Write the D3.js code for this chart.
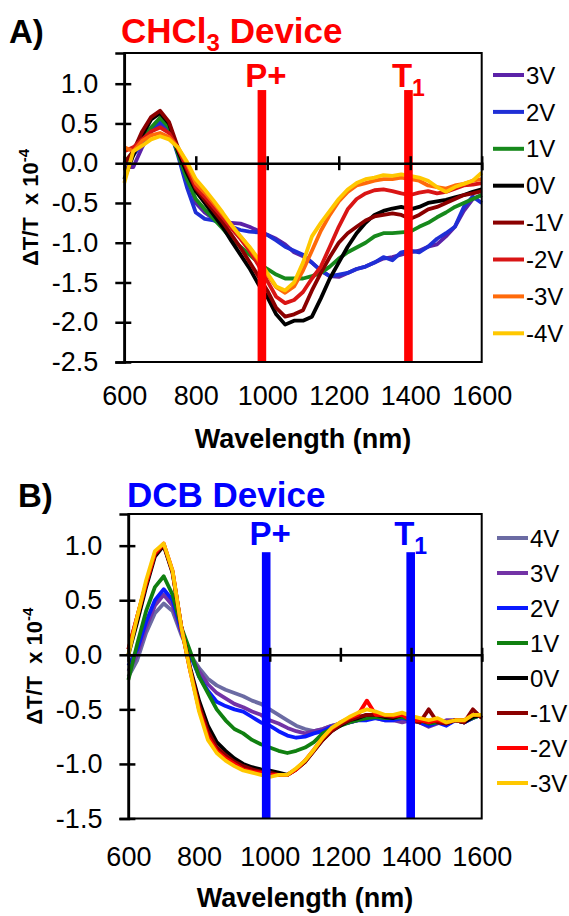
<!DOCTYPE html>
<html>
<head>
<meta charset="utf-8">
<script src="https://cdn.jsdelivr.net/npm/d3@7"></script>
<style>
body { margin: 0; background: #fff; }
text { font-family: "Liberation Sans", Arial, sans-serif; }
</style>
</head>
<body>
<div class="canva"></div>
<script>
// wavelength grid (nm) shared by both panels
const wavelengths = [600, 625, 650, 675, 700, 725, 750, 775, 800, 825, 850, 875, 900, 925, 950, 975,
  1000, 1025, 1050, 1075, 1100, 1125, 1150, 1175, 1200, 1225, 1250, 1275, 1300, 1325, 1350, 1375,
  1400, 1425, 1450, 1475, 1500, 1525, 1550, 1575, 1600];
const xTicks = [600, 800, 1000, 1200, 1400, 1600];

// Panel A - CHCl3 device
const labelsA = ["3V", "2V", "1V", "0V", "-1V", "-2V", "-3V", "-4V"];
const colorsA = ["#5b22a8", "#1f2fd6", "#17891c", "#000000", "#8b0000", "#d91515", "#ff6a0a", "#ffc800"];
const a3V  = [-0.05, -0.05, 0.2, 0.4, 0.5, 0.42, 0.15, -0.15, -0.5, -0.62, -0.7, -0.74, -0.75, -0.76, -0.8, -0.85,
  -0.9, -0.95, -1.02, -1.12, -1.17, -1.25, -1.35, -1.42, -1.43, -1.38, -1.33, -1.3, -1.25, -1.2, -1.18, -1.15,
  -1.12, -1.1, -1.05, -1.02, -0.92, -0.8, -0.6, -0.45, -0.4];
const a2V  = [0.0, 0.1, 0.25, 0.42, 0.52, 0.45, 0.1, -0.3, -0.62, -0.7, -0.72, -0.76, -0.8, -0.84, -0.86, -0.87,
  -0.9, -0.97, -1.05, -1.1, -1.15, -1.25, -1.35, -1.42, -1.4, -1.38, -1.33, -1.3, -1.25, -1.18, -1.22, -1.12,
  -1.1, -1.12, -1.05, -0.95, -0.88, -0.8, -0.55, -0.42, -0.5];
const a1V  = [0.0, 0.15, 0.3, 0.45, 0.57, 0.45, 0.12, -0.2, -0.45, -0.58, -0.7, -0.82, -0.95, -1.05, -1.15, -1.25,
  -1.33, -1.4, -1.45, -1.45, -1.45, -1.42, -1.38, -1.3, -1.2, -1.12, -1.06, -1.0, -0.92, -0.88, -0.88, -0.87,
  -0.86, -0.8, -0.75, -0.68, -0.62, -0.55, -0.5, -0.45, -0.4];
const a0V  = [-0.2, 0.1, 0.35, 0.55, 0.63, 0.5, 0.15, -0.12, -0.35, -0.5, -0.65, -0.8, -0.98, -1.15, -1.32, -1.52,
  -1.68, -1.9, -2.03, -1.98, -1.98, -1.93, -1.7, -1.45, -1.25, -1.05, -0.88, -0.75, -0.65, -0.6, -0.57, -0.55,
  -0.58, -0.55, -0.5, -0.48, -0.46, -0.43, -0.4, -0.36, -0.33];
const aM1V = [0.0, 0.15, 0.4, 0.58, 0.66, 0.52, 0.2, -0.08, -0.32, -0.46, -0.6, -0.74, -0.9, -1.06, -1.24, -1.42,
  -1.6, -1.82, -1.93, -1.9, -1.85, -1.6, -1.38, -1.18, -1.0, -0.88, -0.8, -0.72, -0.67, -0.65, -0.63, -0.65,
  -0.7, -0.65, -0.58, -0.55, -0.5, -0.45, -0.4, -0.38, -0.35];
const aM2V = [0.15, 0.2, 0.3, 0.4, 0.45, 0.38, 0.18, -0.05, -0.3, -0.42, -0.55, -0.68, -0.82, -0.95, -1.1, -1.28,
  -1.48, -1.68, -1.76, -1.72, -1.62, -1.45, -1.3, -1.05, -0.8, -0.58, -0.45, -0.38, -0.34, -0.33, -0.35, -0.38,
  -0.4, -0.37, -0.35, -0.38, -0.36, -0.32, -0.28, -0.27, -0.25];
const aM3V = [0.2, 0.15, 0.28, 0.35, 0.38, 0.33, 0.2, 0.0, -0.25, -0.37, -0.5, -0.64, -0.78, -0.92, -1.06, -1.22,
  -1.4, -1.56, -1.63, -1.55, -1.35, -1.1, -0.85, -0.65, -0.48, -0.36, -0.28, -0.25, -0.22, -0.2, -0.2, -0.18,
  -0.2, -0.22, -0.28, -0.3, -0.32, -0.28, -0.26, -0.22, -0.2];
const aM4V = [-0.25, 0.15, 0.22, 0.3, 0.34, 0.3, 0.2, 0.02, -0.2, -0.33, -0.47, -0.62, -0.78, -0.92, -1.05, -1.2,
  -1.38, -1.55, -1.6, -1.5, -1.25, -0.92, -0.75, -0.6, -0.45, -0.33, -0.25, -0.2, -0.18, -0.15, -0.16, -0.14,
  -0.16, -0.18, -0.22, -0.3, -0.36, -0.3, -0.26, -0.22, -0.12];
const seriesA = [a3V, a2V, a1V, a0V, aM1V, aM2V, aM3V, aM4V];
const yTicksA = [1.0, 0.5, 0.0, -0.5, -1.0, -1.5, -2.0, -2.5];

// Panel B - DCB device
const labelsB = ["4V", "3V", "2V", "1V", "0V", "-1V", "-2V", "-3V"];
const colorsB = ["#6b6ba3", "#7333a6", "#0a1aff", "#108010", "#000000", "#8b0000", "#ff0000", "#ffc800"];
const b4V  = [-0.2, -0.05, 0.2, 0.38, 0.47, 0.4, 0.18, 0.0, -0.12, -0.22, -0.28, -0.32, -0.35, -0.38, -0.42, -0.45,
  -0.5, -0.55, -0.6, -0.65, -0.68, -0.7, -0.68, -0.65, -0.63, -0.62, -0.6, -0.58, -0.57, -0.58, -0.6, -0.6,
  -0.6, -0.62, -0.65, -0.62, -0.62, -0.6, -0.62, -0.58, -0.55];
const b3V  = [-0.15, 0.0, 0.25, 0.45, 0.55, 0.45, 0.2, 0.0, -0.15, -0.27, -0.35, -0.4, -0.45, -0.48, -0.52, -0.55,
  -0.6, -0.63, -0.67, -0.7, -0.72, -0.7, -0.68, -0.65, -0.63, -0.62, -0.6, -0.57, -0.58, -0.6, -0.6, -0.62,
  -0.6, -0.62, -0.66, -0.63, -0.6, -0.6, -0.62, -0.57, -0.55];
const b2V  = [-0.1, 0.05, 0.3, 0.5, 0.6, 0.5, 0.22, 0.0, -0.2, -0.33, -0.43, -0.47, -0.5, -0.52, -0.57, -0.62,
  -0.65, -0.7, -0.74, -0.76, -0.75, -0.72, -0.7, -0.66, -0.64, -0.62, -0.6, -0.6, -0.58, -0.6, -0.6, -0.58,
  -0.6, -0.62, -0.65, -0.62, -0.65, -0.6, -0.62, -0.58, -0.55];
const b1V  = [-0.23, 0.1, 0.4, 0.62, 0.72, 0.55, 0.25, 0.03, -0.2, -0.35, -0.5, -0.6, -0.68, -0.72, -0.78, -0.82,
  -0.85, -0.88, -0.9, -0.88, -0.85, -0.8, -0.72, -0.68, -0.65, -0.62, -0.6, -0.58, -0.57, -0.58, -0.58, -0.57,
  -0.6, -0.6, -0.63, -0.62, -0.62, -0.6, -0.6, -0.58, -0.55];
const b0V  = [0.0, 0.3, 0.62, 0.9, 1.0, 0.75, 0.25, -0.12, -0.42, -0.65, -0.8, -0.88, -0.95, -1.0, -1.03, -1.05,
  -1.06, -1.08, -1.1, -1.05, -0.98, -0.88, -0.78, -0.7, -0.65, -0.6, -0.58, -0.55, -0.55, -0.57, -0.58, -0.55,
  -0.58, -0.6, -0.62, -0.6, -0.63, -0.6, -0.62, -0.57, -0.55];
const bM1V = [0.05, 0.35, 0.65, 0.92, 1.01, 0.76, 0.25, -0.14, -0.46, -0.7, -0.85, -0.92, -0.98, -1.02, -1.05, -1.07,
  -1.08, -1.1, -1.1, -1.05, -0.98, -0.88, -0.78, -0.7, -0.64, -0.6, -0.57, -0.55, -0.55, -0.56, -0.57, -0.55,
  -0.6, -0.62, -0.5, -0.62, -0.63, -0.6, -0.62, -0.5, -0.58];
const bM2V = [0.05, 0.35, 0.65, 0.93, 1.02, 0.77, 0.25, -0.15, -0.5, -0.75, -0.88, -0.95, -1.0, -1.05, -1.07, -1.08,
  -1.1, -1.1, -1.1, -1.05, -0.97, -0.87, -0.76, -0.68, -0.62, -0.58, -0.55, -0.42, -0.55, -0.55, -0.56, -0.55,
  -0.6, -0.6, -0.62, -0.6, -0.62, -0.6, -0.6, -0.55, -0.55];
const bM3V = [0.0, 0.35, 0.68, 0.95, 1.02, 0.77, 0.25, -0.15, -0.52, -0.78, -0.9, -0.97, -1.02, -1.06, -1.08, -1.1,
  -1.12, -1.1, -1.1, -1.04, -0.97, -0.87, -0.76, -0.67, -0.62, -0.57, -0.53, -0.5, -0.52, -0.55, -0.55, -0.53,
  -0.56, -0.58, -0.6, -0.58, -0.62, -0.6, -0.6, -0.55, -0.55];
const seriesB = [b4V, b3V, b2V, b1V, b0V, bM1V, bM2V, bM3V];
const yTicksB = [1.0, 0.5, 0.0, -0.5, -1.0, -1.5];

const svg = d3.select(".canva").append("svg")
    .attr("width", 569)
    .attr("height", 916);

function drawPanel(p) {
  const g = svg.append("g");
  const x = d3.scaleLinear().domain([600, 1600]).range([p.left, p.right]);
  const y = d3.scaleLinear().domain([p.yMin, p.yMax]).range([p.bottom, p.top]);

  // series lines
  const line = d3.line()
      .x((d, i) => x(wavelengths[i]))
      .y(d => y(d));
  g.selectAll("path.series")
    .data(p.series)
    .join("path")
      .attr("class", "series")
      .attr("d", line)
      .attr("fill", "none")
      .attr("stroke", (d, i) => p.colors[i])
      .attr("stroke-width", 3.8)
      .attr("stroke-linejoin", "round");

  // marker bars (P+ and T1)
  g.selectAll("rect.marker")
    .data(p.markers)
    .join("rect")
      .attr("class", "marker")
      .attr("x", d => x(d.wl) - 4.3)
      .attr("width", 8.6)
      .attr("y", y(p.barTop))
      .attr("height", y(p.yMin) - y(p.barTop))
      .attr("fill", p.markerColor);

  const mk = g.selectAll("text.marker")
    .data(p.markers)
    .join("text")
      .attr("class", "marker")
      .attr("x", d => x(d.wl) + (d.sub ? 0 : 4))
      .attr("y", p.markerY)
      .attr("text-anchor", "middle")
      .attr("font-size", 33)
      .attr("font-weight", "bold")
      .attr("fill", p.markerColor);
  mk.append("tspan").text(d => d.label);
  mk.filter(d => d.sub).append("tspan")
      .attr("font-size", 23)
      .attr("dy", 9)
      .text(d => d.sub);

  // frame
  g.append("rect")
      .attr("x", p.left).attr("y", p.top)
      .attr("width", p.right - p.left).attr("height", p.bottom - p.top)
      .attr("fill", "none").attr("stroke", "#000").attr("stroke-width", 2);

  // zero line with cross ticks
  const zeroAxis = g.append("g")
      .attr("transform", `translate(0, ${y(0)})`)
      .call(d3.axisBottom(x).tickValues(xTicks).tickFormat("").tickSizeOuter(0).tickSize(7));
  zeroAxis.select(".domain").attr("stroke-width", 2.5);
  zeroAxis.selectAll(".tick line").attr("y1", -7).attr("stroke-width", 2.5);

  // y axis
  const yAxis = g.append("g")
      .attr("transform", `translate(${p.left}, 0)`)
      .call(d3.axisLeft(y).tickValues(p.yTicks).tickFormat(d => d.toFixed(1)).tickSizeOuter(0).tickSize(9).tickPadding(17));
  yAxis.select(".domain").attr("stroke-width", 2.5);
  yAxis.selectAll(".tick line").attr("x1", 7).attr("stroke-width", 2.5);
  yAxis.selectAll(".tick text")
      .attr("font-size", 27)
      .attr("font-family", "Liberation Sans, Arial, sans-serif")
      .attr("fill", "#000");

  // x tick labels below the frame
  const xLab = g.append("g")
      .attr("transform", `translate(0, ${p.bottom})`)
      .call(d3.axisBottom(x).tickValues(xTicks).tickFormat(d => String(d)).tickSize(0).tickPadding(p.xPad));
  xLab.select(".domain").remove();
  xLab.selectAll(".tick text")
      .attr("font-size", 27)
      .attr("font-family", "Liberation Sans, Arial, sans-serif")
      .attr("fill", "#000");

  // axis titles
  g.append("text")
      .attr("x", (p.left + p.right) / 2)
      .attr("y", p.xTitleY)
      .attr("text-anchor", "middle")
      .attr("font-size", 27)
      .attr("font-weight", "bold")
      .text("Wavelength (nm)");

  const yt = g.append("text")
      .attr("transform", `translate(${p.yTitleX}, ${(p.top + p.bottom) / 2}) rotate(-90)`)
      .attr("text-anchor", "middle")
      .attr("font-size", 22)
      .attr("font-weight", "bold")
      .style("white-space", "pre");
  yt.append("tspan").text("\u0394T/T  x 10");
  yt.append("tspan").attr("font-size", 15).attr("dy", -9).text("-4");

  // panel letter and title
  g.append("text")
      .attr("x", p.letterX).attr("y", p.titleY)
      .attr("font-size", 33).attr("font-weight", "bold")
      .text(p.letter);
  const tt = g.append("text")
      .attr("x", p.titleX).attr("y", p.titleY)
      .attr("font-size", 35).attr("font-weight", "bold")
      .attr("fill", p.markerColor);
  p.title.forEach(part => {
    const ts = tt.append("tspan").text(part.t);
    if (part.sub) ts.attr("font-size", 24).attr("dy", 8);
    if (part.up) ts.attr("dy", -8);
  });

  // legend
  const leg = g.selectAll("g.legend")
    .data(p.labels)
    .join("g")
      .attr("class", "legend")
      .attr("transform", (d, i) => `translate(${p.legX}, ${p.legY + i * p.legStep})`);
  leg.append("line")
      .attr("x1", 0).attr("x2", 31)
      .attr("stroke", (d, i) => p.colors[i])
      .attr("stroke-width", 4);
  leg.append("text")
      .attr("x", 33)
      .attr("dy", "0.36em")
      .attr("font-size", 24)
      .text(d => d);
}

drawPanel({
  left: 124.3, right: 481.7, top: 53, bottom: 362,
  yMin: -2.5, yMax: 1.386, yTicks: yTicksA,
  series: seriesA, colors: colorsA, labels: labelsA,
  markers: [{label: "P+", wl: 985}, {label: "T", sub: "1", wl: 1395}],
  markerColor: "#ff0000", barTop: 0.92, markerY: 87,
  xPad: 24, xTitleY: 448, yTitleX: 38,
  letter: "A)", letterX: 9, titleX: 121, titleY: 43,
  title: [{t: "CHCl"}, {t: "3", sub: true}, {t: " Device", up: true}],
  legX: 493, legY: 75, legStep: 36.9
});

drawPanel({
  left: 128.4, right: 481.7, top: 514, bottom: 818.5,
  yMin: -1.5, yMax: 1.29, yTicks: yTicksB,
  series: seriesB, colors: colorsB, labels: labelsB,
  markers: [{label: "P+", wl: 990}, {label: "T", sub: "1", wl: 1399}],
  markerColor: "#0000ff", barTop: 0.94, markerY: 545,
  xPad: 28, xTitleY: 907, yTitleX: 42,
  letter: "B)", letterX: 18, titleX: 127, titleY: 507,
  title: [{t: "DCB Device"}],
  legX: 497, legY: 538, legStep: 35
});
</script>
</body>
</html>
